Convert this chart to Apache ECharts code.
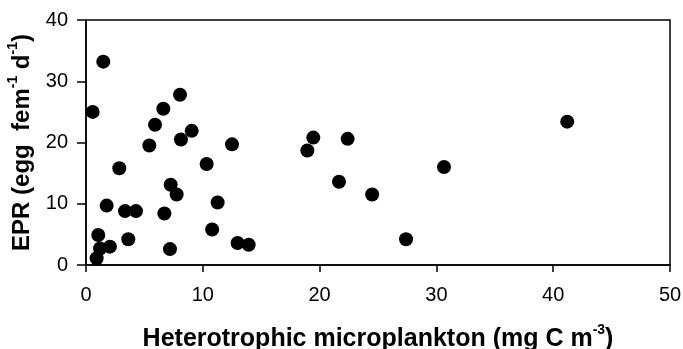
<!DOCTYPE html>
<html><head><meta charset="utf-8">
<script src="https://cdn.jsdelivr.net/npm/echarts@6/dist/echarts.min.js"></script>
<style>html,body{margin:0;padding:0;background:#fff}#c{width:683px;height:349px}</style>
</head><body><div id="c"></div>
<script>
const xValues = [0.57,1.48,1.05,0.91,1.2,2.05,1.77,2.85,3.34,4.28,3.62,5.42,5.91,6.62,8.05,9.05,8.13,7.25,7.76,6.71,7.19,10.33,11.27,10.8,12.5,12.98,13.93,19.46,18.95,22.4,21.66,24.5,27.4,30.65,41.2];
const yValues = [25.0,33.2,4.9,1.1,2.7,3.0,9.7,15.8,8.8,8.8,4.2,19.5,22.9,25.5,27.8,21.9,20.5,13.1,11.5,8.4,2.6,16.5,10.2,5.8,19.7,3.6,3.3,20.8,18.7,20.6,13.6,11.5,4.2,16.0,23.4];
const xTicks = [0,10,20,30,40,50];
const yTicks = [0,10,20,30,40];

const points = xValues.map((x,i)=>[x,yValues[i]]);
const font = '"Liberation Sans", Arial, sans-serif';
function rich(size){
  return {
    b:{fontSize:size,fontWeight:'bold',fontFamily:font,color:'#000',lineHeight:size+4,verticalAlign:'bottom'},
    s:{fontSize:Math.round(size*0.58),fontWeight:'bold',fontFamily:font,color:'#000',lineHeight:size+4,verticalAlign:'top'}
  };
}
const chart = echarts.init(document.getElementById('c'));
chart.setOption({
  animation:false,
  grid:{left:86,right:13,top:20,bottom:84,outerBoundsMode:'none',containLabel:false,show:true,borderColor:'#000',borderWidth:1.5,backgroundColor:'transparent'},
  xAxis:{type:'value',min:xTicks[0],max:xTicks[xTicks.length-1],interval:10,
    axisLine:{show:true,lineStyle:{color:'#000',width:1.5}},
    axisTick:{show:true,inside:false,length:7,lineStyle:{color:'#000',width:1.5}},
    splitLine:{show:false},
    axisLabel:{color:'#000',fontSize:20,fontFamily:font,margin:20},
    name:'{b|Heterotrophic microplankton (mg C m}{s|-3}{b|)}',
    nameLocation:'middle',nameGap:58,
    nameTextStyle:{rich:rich(25)}
  },
  yAxis:{type:'value',min:yTicks[0],max:yTicks[yTicks.length-1],interval:10,
    axisLine:{show:true,lineStyle:{color:'#000',width:1.5}},
    axisTick:{show:true,inside:false,length:9,lineStyle:{color:'#000',width:1.5}},
    splitLine:{show:false},
    axisLabel:{color:'#000',fontSize:20,fontFamily:font,margin:18},
    name:'{b|EPR (egg  fem}{s|-1}{b| d}{s|-1}{b|)}',
    nameLocation:'middle',nameGap:52,nameRotate:90,
    nameTextStyle:{rich:rich(24)}
  },
  series:[{type:'scatter',data:points,symbol:'circle',symbolSize:14,itemStyle:{color:'#000',opacity:1}}]
});
</script></body></html>
